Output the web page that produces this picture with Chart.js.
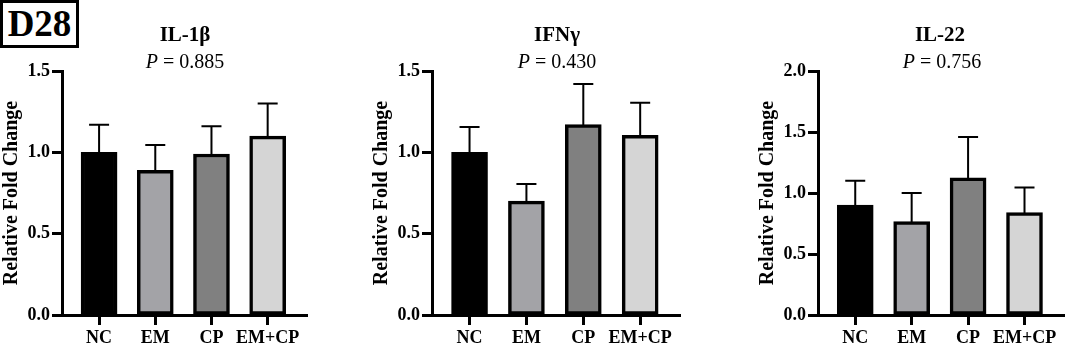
<!DOCTYPE html>
<html>
<head>
<meta charset="utf-8">
<script src="https://cdn.jsdelivr.net/npm/chart.js@4.4.1/dist/chart.umd.min.js"></script>
<style>
  html, body { margin: 0; padding: 0; background: #fff; }
  body { width: 1065px; height: 347px; position: relative; overflow: hidden; font-family: "Liberation Serif", serif; }
  canvas { position: absolute; top: 0; }
  .gene { position: absolute; width: 200px; text-align: center; font-weight: bold; font-size: 21px; line-height: 24px; color: #000; }
  .pval { position: absolute; width: 200px; text-align: center; font-size: 20px; line-height: 24px; color: #000; }
  .tag { position: absolute; left: 0; top: 0; width: 79px; height: 48px; box-sizing: border-box; border: 3px solid #000; font-weight: bold; font-size: 37px; line-height: 42px; text-align: center; color: #000; }
</style>
</head>
<body>
<div class="tag">D28</div>

<script>
// ---- data ----
const categories = ["NC", "EM", "CP", "EM+CP"];
const genes = ["IL-1β", "IFNγ", "IL-22"];
const pValues = ["0.885", "0.430", "0.756"];

const il1bMean = [1.00, 0.89, 0.99, 1.10];
const il1bSem  = [0.17, 0.155, 0.17, 0.20];

const ifngMean = [1.00, 0.70, 1.17, 1.105];
const ifngSem  = [0.155, 0.105, 0.25, 0.20];

const il22Mean = [0.90, 0.765, 1.125, 0.84];
const il22Sem  = [0.20, 0.235, 0.335, 0.205];

const yMax = [1.5, 1.5, 2.0];
const yTicksStep = 0.5;

const barColors = ["#000000", "#a3a3a7", "#808080", "#d5d5d5"];

// ---- layout (panels) ----
const panels = [
  { mean: il1bMean, sem: il1bSem, left: 0,   width: 330, right: 23, gx: 185, px: 185 },
  { mean: ifngMean, sem: ifngSem, left: 370, width: 330, right: 20, gx: 557, px: 557 },
  { mean: il22Mean, sem: il22Sem, left: 756, width: 309, right: 1,  gx: 940, px: 942 }
];

const FONT = '"Liberation Serif", serif';

const errorBars = {
  id: 'errorBars',
  afterDatasetsDraw(chart, args, opts) {
    const ctx = chart.ctx;
    const meta = chart.getDatasetMeta(0);
    const ys = chart.scales.y;
    const sem = opts.sem;
    const mean = opts.mean;
    ctx.save();
    ctx.strokeStyle = '#000';
    ctx.lineWidth = 2;
    meta.data.forEach((bar, i) => {
      const yTop = ys.getPixelForValue(mean[i] + sem[i]);
      const x = bar.x;
      ctx.beginPath();
      ctx.moveTo(x, bar.y + 1);
      ctx.lineTo(x, yTop);
      ctx.moveTo(x - 10, yTop);
      ctx.lineTo(x + 10, yTop);
      ctx.stroke();
    });
    ctx.restore();
  }
};

panels.forEach((p, k) => {
  const cv = document.createElement('canvas');
  cv.width = p.width; cv.height = 347;
  cv.style.left = p.left + 'px';
  cv.style.width = p.width + 'px'; cv.style.height = '347px';
  document.body.appendChild(cv);

  const g = document.createElement('div');
  g.className = 'gene'; g.textContent = genes[k];
  g.style.left = (p.gx - 100) + 'px'; g.style.top = '22px';
  document.body.appendChild(g);

  const pv = document.createElement('div');
  pv.className = 'pval';
  pv.innerHTML = '<i>P</i> = ' + pValues[k];
  pv.style.left = (p.px - 100) + 'px'; pv.style.top = '49px';
  document.body.appendChild(pv);

  new Chart(cv, {
    type: 'bar',
    data: {
      datasets: [{
        data: p.mean.map((v, i) => ({ x: i, y: v })),
        backgroundColor: barColors,
        borderColor: '#000',
        borderWidth: 3.5,
        borderSkipped: false,
        barThickness: 36
      }]
    },
    options: {
      responsive: false,
      animation: false,
      devicePixelRatio: 1,
      layout: { padding: { top: 71, right: p.right, left: 0, bottom: 0 } },
      plugins: {
        legend: { display: false },
        tooltip: { enabled: false },
        errorBars: { mean: p.mean, sem: p.sem }
      },
      scales: {
        x: {
          type: 'linear',
          offset: false,
          min: -0.66, max: 3.7,
          afterFit(s) { s.height = 32; },
          grid: { display: true, offset: false, drawOnChartArea: false, drawTicks: true, tickLength: 10, tickWidth: 3, color: '#000' },
          border: { display: true, width: 3, color: '#000' },
          ticks: {
            stepSize: 1, includeBounds: false, autoSkip: false, maxRotation: 0, padding: 3,
            color: '#000', font: { family: FONT, size: 18, weight: 'bold' },
            callback: (v) => categories[v] !== undefined ? categories[v] : ''
          }
        },
        y: {
          min: 0, max: yMax[k],
          afterFit(s) { s.width = 62; },
          grid: { display: true, drawOnChartArea: false, drawTicks: true, tickLength: 10, tickWidth: 3, color: '#000' },
          border: { display: true, width: 3, color: '#000' },
          ticks: {
            stepSize: yTicksStep, padding: 2, color: '#000',
            font: { family: FONT, size: 18, weight: 'bold' },
            callback: (v) => v.toFixed(1)
          },
          title: {
            display: true, text: 'Relative Fold Change', color: '#000', padding: 0,
            font: { family: FONT, size: 20, weight: 'bold' }
          }
        }
      }
    },
    plugins: [errorBars]
  });
});
</script>
</body>
</html>
